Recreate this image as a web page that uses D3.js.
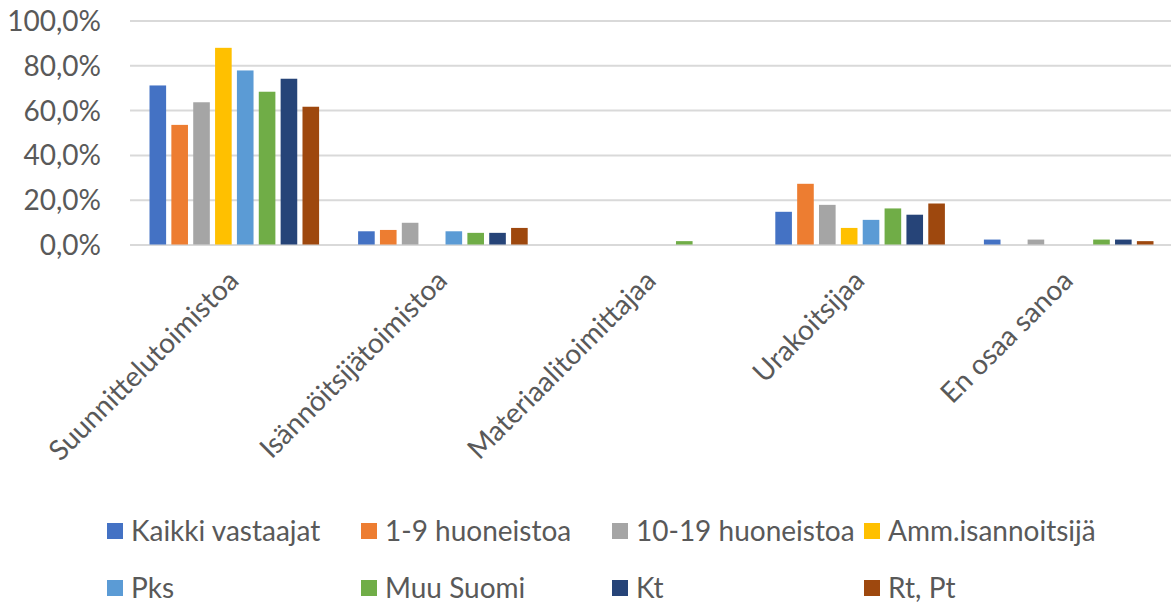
<!DOCTYPE html>
<html>
<head>
<meta charset="utf-8">
<script src="https://cdn.jsdelivr.net/npm/d3@7"></script>
<style>
  body { margin: 0; background: #fff; }
  svg text { font-family: Lato, "Open Sans", sans-serif; fill: #595959; }
</style>
</head>
<body>
<div id="chart"></div>
<script>
// categories and series
const categories = ['Suunnittelutoimistoa', 'Isännöitsijätoimistoa', 'Materiaalitoimittajaa', 'Urakoitsijaa', 'En osaa sanoa'];
const seriesNames = ['Kaikki vastaajat', '1-9 huoneistoa', '10-19 huoneistoa', 'Amm.isannoitsijä', 'Pks', 'Muu Suomi', 'Kt', 'Rt, Pt'];
const seriesColors = ['#4472C4', '#ED7D31', '#A5A5A5', '#FFC000', '#5B9BD5', '#70AD47', '#264478', '#9E480E'];

// values per series, in category order (share of respondents)
const kaikkiVastaajat = [0.710, 0.059, 0.000, 0.146, 0.022];
const huoneistoa1to9 = [0.534, 0.065, 0.000, 0.271, 0.000];
const huoneistoa10to19 = [0.635, 0.097, 0.000, 0.177, 0.022];
const ammIsannoitsija = [0.878, 0.000, 0.000, 0.074, 0.000];
const pks = [0.777, 0.059, 0.000, 0.110, 0.000];
const muuSuomi = [0.682, 0.052, 0.015, 0.161, 0.022];
const kt = [0.740, 0.052, 0.000, 0.133, 0.022];
const rtPt = [0.615, 0.074, 0.000, 0.183, 0.015];
const seriesValues = [kaikkiVastaajat, huoneistoa1to9, huoneistoa10to19, ammIsannoitsija, pks, muuSuomi, kt, rtPt];

const yTicks = [0, 0.2, 0.4, 0.6, 0.8, 1.0];

const width = 1171;
const height = 603;
const fontSize = 28;
const plot = {left: 130, right: 1173, top: 20.5, bottom: 244.5};

const svg = d3.select('#chart')
    .append('svg')
    .attr('width', width)
    .attr('height', height);

// scales
const x0 = d3.scaleBand()
    .domain(categories)
    .range([plot.left, plot.right])
    .paddingInner(0.187)
    .paddingOuter(0.0935);

const x1 = d3.scaleBand()
    .domain(seriesNames)
    .range([0, x0.bandwidth()])
    .paddingInner(0.24);

const y = d3.scaleLinear()
    .domain([0, 1])
    .range([plot.bottom, plot.top]);

const fmt = v => d3.format('.1f')(v * 100).replace('.', ',') + '%';

// gridlines + y labels via axis
const yAxis = svg.append('g')
    .attr('transform', 'translate(' + plot.left + ',0)')
    .call(d3.axisLeft(y)
        .tickValues(yTicks)
        .tickSize(-(width - plot.left))
        .tickPadding(29)
        .tickFormat(fmt));
yAxis.select('.domain').remove();
yAxis.selectAll('.tick line')
    .attr('stroke', '#d9d9d9')
    .attr('stroke-width', 2);
yAxis.selectAll('.tick text')
    .attr('font-size', fontSize)
    .attr('fill', '#595959')
    .attr('dy', '0.36em')
    .style('font-family', 'Lato, "Open Sans", sans-serif');

// bars
const groups = svg.append('g')
    .selectAll('g')
    .data(categories)
    .join('g')
    .attr('transform', d => 'translate(' + x0(d) + ',0)');

groups.selectAll('rect')
    .data((c, ci) => seriesNames.map((s, si) => ({series: s, value: seriesValues[si][ci], color: seriesColors[si]})))
    .join('rect')
    .attr('x', d => x1(d.series))
    .attr('width', x1.bandwidth())
    .attr('y', d => y(d.value))
    .attr('height', d => y(0) - y(d.value))
    .attr('fill', d => d.color);

// x labels, rotated
const xAxis = svg.append('g')
    .attr('transform', 'translate(0,' + plot.bottom + ')')
    .call(d3.axisBottom(x0).tickSize(0).tickPadding(0));
xAxis.select('.domain').remove();
xAxis.selectAll('.tick text')
    .attr('font-size', fontSize)
    .attr('text-anchor', 'end')
    .attr('dy', 0)
    .attr('y', 0)
    .attr('transform', 'translate(6,38) rotate(-45)')
    .style('font-family', 'Lato, "Open Sans", sans-serif')
    .attr('fill', '#595959');

// legend
const legendCols = [107, 361, 612, 864];
const legendRows = [531, 588];
const legend = svg.append('g')
    .selectAll('g')
    .data(seriesNames)
    .join('g')
    .attr('transform', (d, i) => 'translate(' + legendCols[i % 4] + ',' + legendRows[Math.floor(i / 4)] + ')');

legend.append('rect')
    .attr('x', 0)
    .attr('y', -8)
    .attr('width', 16)
    .attr('height', 16)
    .attr('fill', (d, i) => seriesColors[i]);

legend.append('text')
    .attr('x', 24)
    .attr('dy', '0.36em')
    .attr('font-size', fontSize)
    .text(d => d);
</script>
</body>
</html>
